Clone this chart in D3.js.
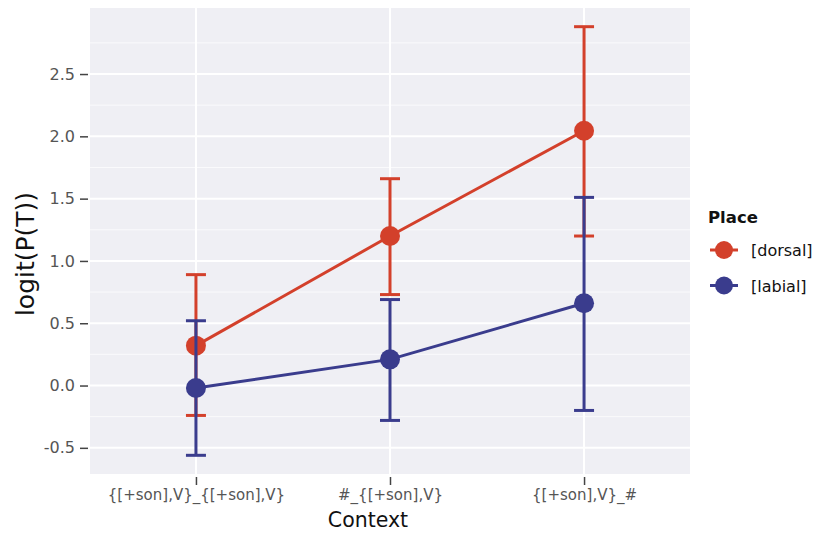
<!DOCTYPE html>
<html><head><meta charset="utf-8">
<script src="https://cdn.jsdelivr.net/npm/d3@7"></script>
<style>body{margin:0;background:#fff}</style>
</head><body>
<svg id="c" width="814" height="533"></svg>
<script>
const categories = ["{[+son],V}_{[+son],V}", "#_{[+son],V}", "{[+son],V}_#"];
const places = ["[dorsal]", "[labial]"];
const dorsalMean = [0.32, 1.20, 2.045];
const dorsalLow  = [-0.24, 0.73, 1.20];
const dorsalHigh = [0.89, 1.66, 2.88];
const labialMean = [-0.02, 0.21, 0.66];
const labialLow  = [-0.56, -0.28, -0.20];
const labialHigh = [0.52, 0.69, 1.51];
const yTicks = [-0.5, 0.0, 0.5, 1.0, 1.5, 2.0, 2.5];
const yMinor = [-0.25, 0.25, 0.75, 1.25, 1.75, 2.25, 2.75];

const colors = {"[dorsal]": "#d3402b", "[labial]": "#3a3c8d"};
const series = [
  {name: places[0], mean: dorsalMean, low: dorsalLow, high: dorsalHigh},
  {name: places[1], mean: labialMean, low: labialLow, high: labialHigh}
];
const FONT = "DejaVu Sans, Verdana, sans-serif";

const svg = d3.select("#c");
const L = 90, R = 690, T = 8, B = 474;
const x = d3.scalePoint().domain(categories).range([L, R]).padding(0.546);
const y = d3.scaleLinear().domain([-0.71, 3.03]).range([B, T]);

svg.append("rect").attr("x", L).attr("y", T).attr("width", R - L).attr("height", B - T).attr("fill", "#efeff4");
const g = svg.append("g");
g.selectAll(".mn").data(yMinor).join("line")
  .attr("x1", L).attr("x2", R).attr("y1", d => y(d)).attr("y2", d => y(d))
  .attr("stroke", "#fafafc").attr("stroke-width", 1);
g.selectAll(".mj").data(yTicks).join("line")
  .attr("x1", L).attr("x2", R).attr("y1", d => y(d)).attr("y2", d => y(d))
  .attr("stroke", "#ffffff").attr("stroke-width", 2);
g.selectAll(".vx").data(categories).join("line")
  .attr("x1", d => x(d)).attr("x2", d => x(d)).attr("y1", T).attr("y2", B)
  .attr("stroke", "#ffffff").attr("stroke-width", 2);

// axes
const fmt = d3.format(".1f");
const yAxis = d3.axisLeft(y).tickValues(yTicks).tickFormat(d => fmt(d).replace("\u2212", "-")).tickSize(8).tickPadding(5);
const ya = svg.append("g").attr("transform", `translate(${L - 2},0)`).call(yAxis);
ya.select(".domain").remove();
ya.selectAll("line").attr("stroke", "#444").attr("stroke-width", 1.5);
ya.selectAll("text").attr("fill", "#555").style("font-family", FONT).style("font-size", "16px");

const xAxis = d3.axisBottom(x).tickSize(8).tickPadding(4);
const xa = svg.append("g").attr("transform", `translate(0,${B + 3})`).call(xAxis);
xa.select(".domain").remove();
xa.selectAll("line").attr("stroke", "#444").attr("stroke-width", 1.5);
xa.selectAll("text").attr("fill", "#555").style("font-family", FONT).style("font-size", "15px");

svg.append("text").attr("x", 368).attr("y", 527).attr("text-anchor", "middle")
  .style("font-family", FONT).style("font-size", "20.5px").attr("fill", "#111").text("Context");
svg.append("text").attr("transform", "translate(34,254) rotate(-90)").attr("text-anchor", "middle")
  .style("font-family", FONT).style("font-size", "25px").attr("fill", "#111").text("logit(P(T))");

// series
const line = d3.line().x((d, i) => x(categories[i])).y(d => y(d));
series.forEach(s => {
  const c = colors[s.name];
  const sg = svg.append("g");
  sg.append("path").datum(s.mean).attr("d", line).attr("fill", "none").attr("stroke", c).attr("stroke-width", 3);
  categories.forEach((cat, i) => {
    const cx = x(cat);
    sg.append("line").attr("x1", cx).attr("x2", cx).attr("y1", y(s.low[i])).attr("y2", y(s.high[i])).attr("stroke", c).attr("stroke-width", 3);
    [s.low[i], s.high[i]].forEach(v => {
      sg.append("line").attr("x1", cx - 10).attr("x2", cx + 10).attr("y1", y(v)).attr("y2", y(v)).attr("stroke", c).attr("stroke-width", 3);
    });
    sg.append("circle").attr("cx", cx).attr("cy", y(s.mean[i])).attr("r", 10).attr("fill", c);
  });
});

// legend
const lg = svg.append("g");
lg.append("text").attr("x", 708).attr("y", 223).style("font-family", FONT)
  .style("font-size", "16.5px").style("font-weight", "bold").attr("fill", "#111").text("Place");
places.forEach((p, i) => {
  const cy = 250 + i * 35.5;
  lg.append("line").attr("x1", 710).attr("x2", 738).attr("y1", cy).attr("y2", cy).attr("stroke", colors[p]).attr("stroke-width", 3);
  lg.append("circle").attr("cx", 724).attr("cy", cy).attr("r", 9).attr("fill", colors[p]);
  lg.append("text").attr("x", 751).attr("y", cy + 6).style("font-family", FONT)
    .style("font-size", "16px").attr("fill", "#111").text(p);
});
</script>
</body></html>
